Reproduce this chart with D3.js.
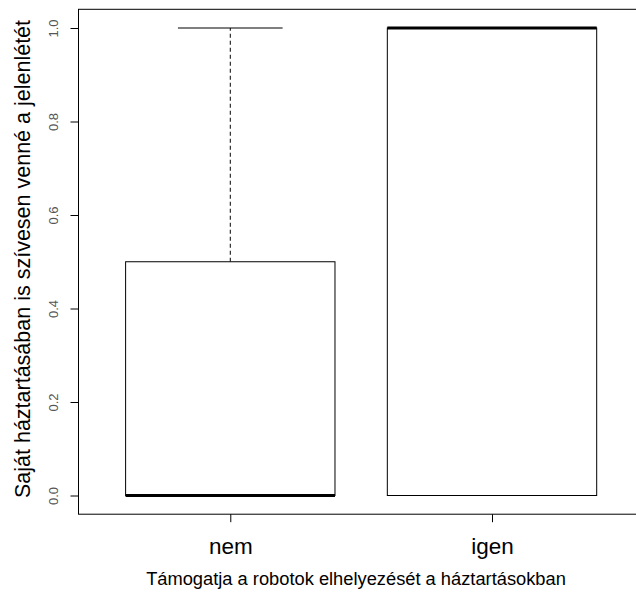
<!DOCTYPE html>
<html><head><meta charset="utf-8">
<script src="https://cdn.jsdelivr.net/npm/d3@7"></script>
<style>body{margin:0;background:#fff}svg{display:block}</style>
</head><body>
<svg id="c" width="636" height="599"></svg>
<script>
const categories = ["nem", "igen"];
const whiskerLow = [0, 0];
const q1Values = [0, 0];
const medianValues = [0, 1];
const q3Values = [0.5, 1];
const whiskerHigh = [1, 1];
const yTicks = [0, 0.2, 0.4, 0.6, 0.8, 1.0];
const xLabel = "Támogatja a robotok elhelyezését a háztartásokban";
const yLabel = "Saját háztartásában is szívesen venné a jelenlétét";

const svg = d3.select("#c");
const font = "Liberation Sans, Arial, sans-serif";
const x = d3.scaleLinear().domain([0.42, 2.58]).range([78.5, 643.8]);
const y = d3.scaleLinear().domain([0, 1]).range([495.5, 28]);
const boxW = 0.8, capW = 0.4;

// frame
svg.append("rect")
  .attr("x", x(0.42)).attr("y", y(1.04))
  .attr("width", x(2.58) - x(0.42)).attr("height", y(-0.04) - y(1.04))
  .attr("fill", "none").attr("stroke", "#000").attr("stroke-width", 1);

const data = categories.map((c, i) => ({
  c, pos: i + 1, lo: whiskerLow[i], q1: q1Values[i], med: medianValues[i], q3: q3Values[i], hi: whiskerHigh[i]
}));

const g = svg.append("g");
data.forEach(d => {
  if (d.hi > d.q3) {
    g.append("line").attr("x1", x(d.pos)).attr("x2", x(d.pos)).attr("y1", y(d.q3)).attr("y2", y(d.hi))
      .attr("stroke", "#000").attr("stroke-dasharray", "4,3");
    g.append("line").attr("x1", x(d.pos - capW / 2)).attr("x2", x(d.pos + capW / 2)).attr("y1", y(d.hi)).attr("y2", y(d.hi))
      .attr("stroke", "#000");
  }
  if (d.lo < d.q1) {
    g.append("line").attr("x1", x(d.pos)).attr("x2", x(d.pos)).attr("y1", y(d.q1)).attr("y2", y(d.lo))
      .attr("stroke", "#000").attr("stroke-dasharray", "4,3");
    g.append("line").attr("x1", x(d.pos - capW / 2)).attr("x2", x(d.pos + capW / 2)).attr("y1", y(d.lo)).attr("y2", y(d.lo))
      .attr("stroke", "#000");
  }
  g.append("rect")
    .attr("x", x(d.pos - boxW / 2)).attr("y", y(d.q3))
    .attr("width", x(d.pos + boxW / 2) - x(d.pos - boxW / 2)).attr("height", y(d.q1) - y(d.q3))
    .attr("fill", "#fff").attr("stroke", "#000").attr("stroke-width", 1);
  g.append("line").attr("x1", x(d.pos - boxW / 2)).attr("x2", x(d.pos + boxW / 2)).attr("y1", y(d.med)).attr("y2", y(d.med))
    .attr("stroke", "#000").attr("stroke-width", 3);
});

// y axis
const yAxis = svg.append("g").attr("transform", `translate(${x(0.42)},0)`)
  .call(d3.axisLeft(y).tickValues(yTicks).tickFormat(d3.format(".1f")).tickSize(8).tickSizeOuter(0));
yAxis.select(".domain").remove();
yAxis.selectAll(".tick line").attr("stroke", "#000");
yAxis.selectAll(".tick text")
  .attr("transform", "rotate(-90)")
  .attr("x", 0).attr("y", -21).attr("dy", 0)
  .attr("text-anchor", "middle")
  .style("font-family", font).style("font-size", "13px").attr("fill", "#555");

// x axis
const xAxis = svg.append("g").attr("transform", `translate(0,${y(-0.04)})`)
  .call(d3.axisBottom(x).tickValues([1, 2]).tickFormat((d, i) => categories[i]).tickSize(8).tickSizeOuter(0));
xAxis.select(".domain").remove();
xAxis.selectAll(".tick line").attr("stroke", "#000");
xAxis.selectAll(".tick text")
  .attr("y", 40).attr("dy", 0)
  .style("font-family", font).style("font-size", "22.5px").attr("fill", "#000");

// axis titles
svg.append("text").attr("x", 356).attr("y", 585).attr("text-anchor", "middle")
  .style("font-family", font).style("font-size", "18.3px").text(xLabel);
svg.append("text").attr("transform", "translate(30,259) rotate(-90)").attr("text-anchor", "middle")
  .style("font-family", font).style("font-size", "21.5px").text(yLabel);
</script>
</body></html>
